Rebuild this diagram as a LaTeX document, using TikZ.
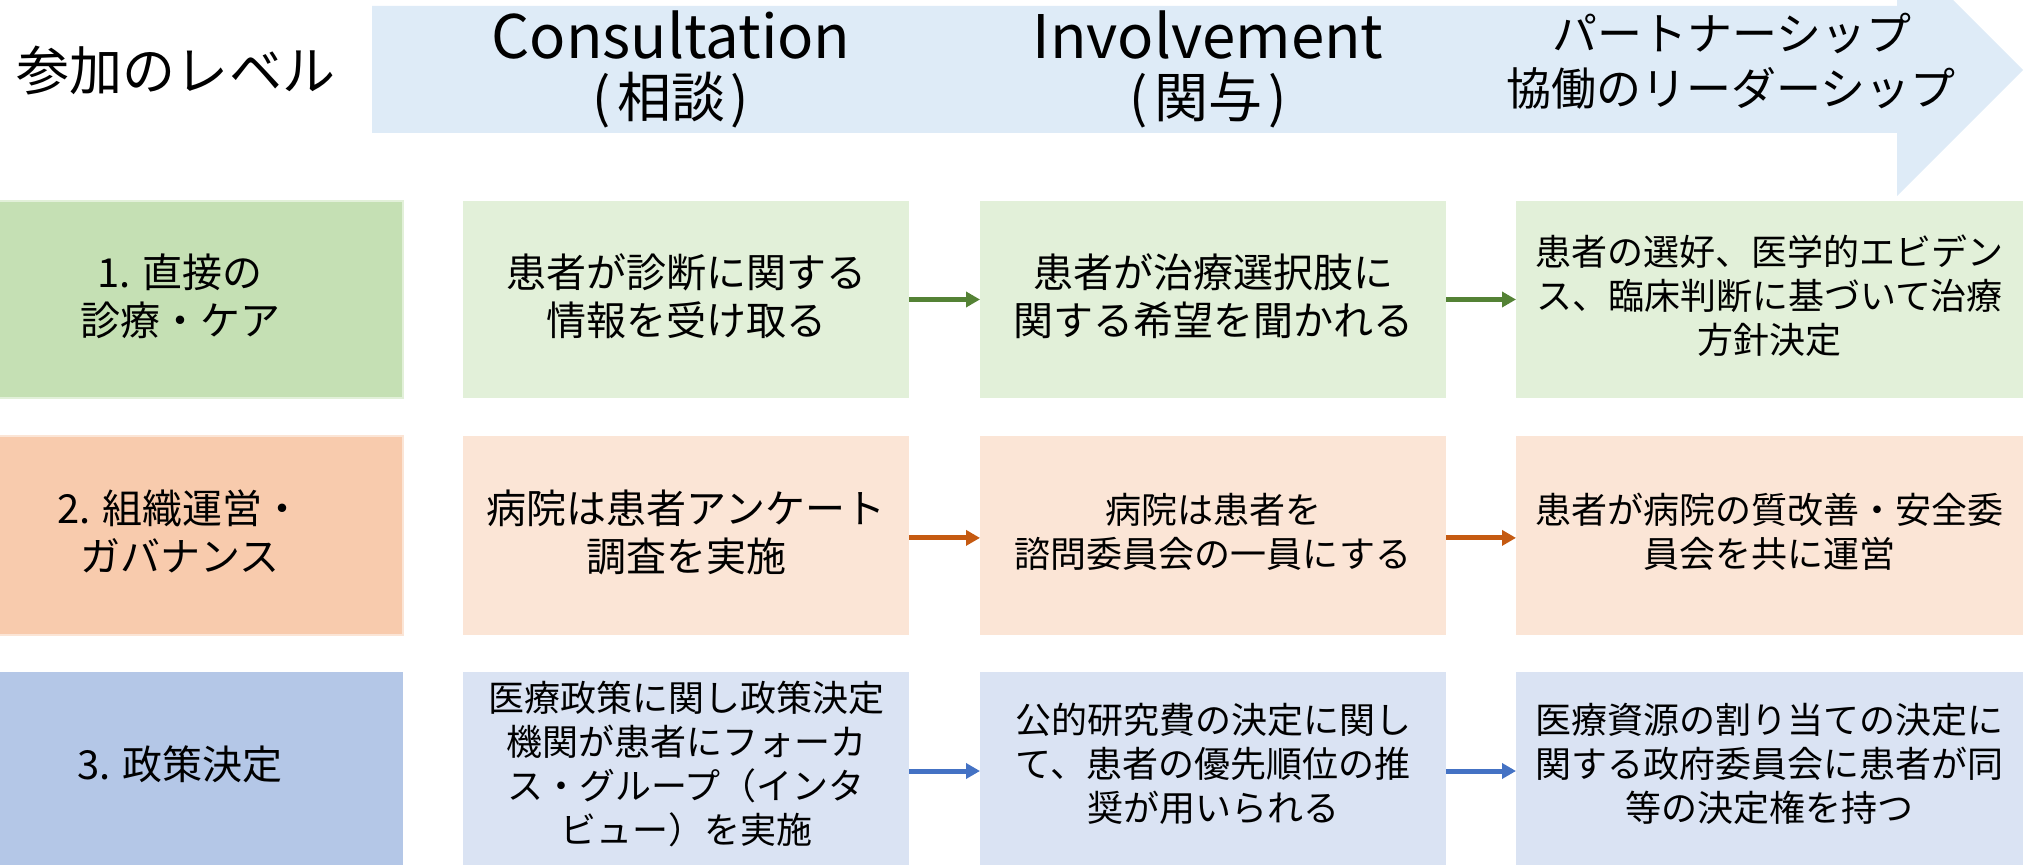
\documentclass[tikz,border=0pt]{standalone}
\usepackage{fontspec}
\setmainfont{Noto Sans CJK JP}
\usetikzlibrary{arrows.meta}
\definecolor{hdr}{HTML}{DEEBF7}
\definecolor{gA}{HTML}{C5E0B4}
\definecolor{gB}{HTML}{E2F0D9}
\definecolor{oA}{HTML}{F8CBAD}
\definecolor{oB}{HTML}{FBE5D6}
\definecolor{bA}{HTML}{B4C7E7}
\definecolor{bB}{HTML}{DAE3F3}
\definecolor{gArr}{HTML}{548235}
\definecolor{oArr}{HTML}{C55A11}
\definecolor{bArr}{HTML}{4472C4}
\newcommand\fa{\fontsize{20pt}{24pt}\selectfont}
\newcommand\fb{\fontsize{18pt}{22pt}\selectfont}
\begin{document}
\begin{tikzpicture}[x=0.5pt,y=-0.5pt,
  cell/.style={inner sep=0pt, outer sep=0pt, align=center, text=black},
  cA/.style={cell, minimum width=223pt},
  cB/.style={cell, minimum width=223pt},
  cC/.style={cell, minimum width=233pt},
  cD/.style={cell, minimum width=253.5pt},
  rA/.style={minimum height=98.5pt, text depth=5pt},
  rB/.style={minimum height=99.5pt, text depth=5pt},
  rC/.style={minimum height=99pt, text depth=8.5pt},
  conn/.style={line width=2.5pt, -{Triangle[length=7pt,width=7.5pt]}},
  hd/.style={inner sep=0pt, text=black}]
\useasboundingbox (0,0) rectangle (2033,865);
\clip (0,0) rectangle (2033,865);
% header arrow band
\fill[hdr] (372,6) -- (1897,6) -- (1897,-56) -- (2023,70) -- (1897,196) -- (1897,133) -- (372,133) -- cycle;
\node[hd, font=\fontsize{26.5pt}{30pt}\selectfont] (lvl) at (176,71) {参加のレベル};
\node[hd, font=\fontsize{30pt}{34pt}\selectfont] (h1a) at (671,35) {Consultation};
\node[hd, font=\fontsize{27pt}{30pt}\selectfont] (h1b) at (671,100) {(\kern3pt相談\kern3pt)};
\node[hd, font=\fontsize{30pt}{34pt}\selectfont] (h2a) at (1208,35) {Involvement};
\node[hd, font=\fontsize{27pt}{30pt}\selectfont] (h2b) at (1208,100) {(\kern3pt関与\kern3pt)};
\node[hd, font=\fontsize{22.5pt}{26pt}\selectfont] (h3a) at (1732,33) {パートナーシップ};
\node[hd, font=\fontsize{22.5pt}{26pt}\selectfont] (h3b) at (1731,88) {協働のリーダーシップ};
% row 1
\node[cA, rA, fill=gA, draw=gB, line width=1pt, font=\fa] (r1c0) at (180,299.5) {1. 直接の\\診療・ケア};
\node[cB, rA, fill=gB, font=\fa] (r1c1) at (686,299.5) {患者が診断に関する\\情報を受け取る};
\node[cC, rA, fill=gB, font=\fa] (r1c2) at (1213,299.5) {患者が治療選択肢に\\関する希望を聞かれる};
\node[cD, rA, fill=gB, font=\fb] (r1c3) at (1769.5,299.5) {患者の選好、医学的エビデン\\ス、臨床判断に基づいて治療\\方針決定};
% row 2
\node[cA, rB, fill=oA, draw=oB, line width=1pt, font=\fa] (r2c0) at (180,535.5) {2. 組織運営・\\ガバナンス};
\node[cB, rB, fill=oB, font=\fa] (r2c1) at (686,535.5) {病院は患者アンケート\\調査を実施};
\node[cC, rB, fill=oB, font=\fb] (r2c2) at (1213,535.5) {病院は患者を\\諮問委員会の一員にする};
\node[cD, rB, fill=oB, font=\fb] (r2c3) at (1769.5,535.5) {患者が病院の質改善・安全委\\員会を共に運営};
% row 3
\node[cA, rC, fill=bA, font=\fa] (r3c0) at (180,771) {3. 政策決定};
\node[cB, rC, fill=bB, font=\fb] (r3c1) at (686,771) {医療政策に関し政策決定\\機関が患者にフォーカ\\ス・グループ（インタ\\ビュー）を実施};
\node[cC, rC, fill=bB, font=\fb] (r3c2) at (1213,771) {公的研究費の決定に関し\\て、患者の優先順位の推\\奨が用いられる};
\node[cD, rC, fill=bB, font=\fb] (r3c3) at (1769.5,771) {医療資源の割り当ての決定に\\関する政府委員会に患者が同\\等の決定権を持つ};
% connectors
\draw[conn, gArr] (r1c1.east) -- (r1c2.west);
\draw[conn, gArr] (r1c2.east) -- (r1c3.west);
\draw[conn, oArr] ([yshift=-1.2pt]r2c1.east) -- ([yshift=-1.2pt]r2c2.west);
\draw[conn, oArr] ([yshift=-1.2pt]r2c2.east) -- ([yshift=-1.2pt]r2c3.west);
\draw[conn, bArr] (r3c1.east) -- (r3c2.west);
\draw[conn, bArr] (r3c2.east) -- (r3c3.west);
\end{tikzpicture}
\end{document}
